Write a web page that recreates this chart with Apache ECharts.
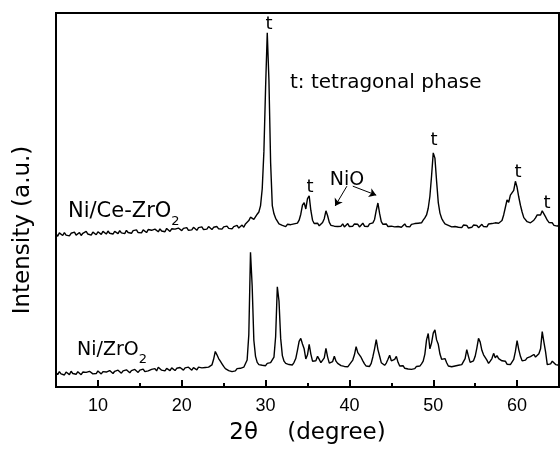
<!DOCTYPE html>
<html>
<head>
<meta charset="utf-8">
<title>XRD</title>
<script src="https://cdn.jsdelivr.net/npm/echarts@6/dist/echarts.min.js"></script>
<style>
  html, body { margin: 0; padding: 0; background: #fff; }
  #chart { width: 560px; height: 450px; }
</style>
</head>
<body>
<div id="chart"></div>
<script>
  // 2-theta grid (degree)
  const angles = [
    5,5.2,5.4,5.6,5.8,6,6.2,6.4,6.6,6.8,
    7,7.2,7.4,7.6,7.8,8,8.2,8.4,8.6,8.8,
    9,9.2,9.4,9.6,9.8,10,10.2,10.4,10.6,10.8,
    11,11.2,11.4,11.6,11.8,12,12.2,12.4,12.6,12.8,
    13,13.2,13.4,13.6,13.8,14,14.2,14.4,14.6,14.8,
    15,15.2,15.4,15.6,15.8,16,16.2,16.4,16.6,16.8,
    17,17.2,17.4,17.6,17.8,18,18.2,18.4,18.6,18.8,
    19,19.2,19.4,19.6,19.8,20,20.2,20.4,20.6,20.8,
    21,21.2,21.4,21.6,21.8,22,22.2,22.4,22.6,22.8,
    23,23.2,23.4,23.6,23.8,24,24.2,24.4,24.6,24.8,
    25,25.2,25.4,25.6,25.8,26,26.2,26.4,26.6,26.8,
    27,27.2,27.4,27.6,27.8,28,28.2,28.4,28.6,28.8,
    29,29.2,29.4,29.6,29.8,30,30.2,30.4,30.6,30.8,
    31,31.2,31.4,31.6,31.8,32,32.2,32.4,32.6,32.8,
    33,33.2,33.4,33.6,33.8,34,34.2,34.4,34.6,34.8,
    35,35.2,35.4,35.6,35.8,36,36.2,36.4,36.6,36.8,
    37,37.2,37.4,37.6,37.8,38,38.2,38.4,38.6,38.8,
    39,39.2,39.4,39.6,39.8,40,40.2,40.4,40.6,40.8,
    41,41.2,41.4,41.6,41.8,42,42.2,42.4,42.6,42.8,
    43,43.2,43.4,43.6,43.8,44,44.2,44.4,44.6,44.8,
    45,45.2,45.4,45.6,45.8,46,46.2,46.4,46.6,46.8,
    47,47.2,47.4,47.6,47.8,48,48.2,48.4,48.6,48.8,
    49,49.2,49.4,49.6,49.8,50,50.2,50.4,50.6,50.8,
    51,51.2,51.4,51.6,51.8,52,52.2,52.4,52.6,52.8,
    53,53.2,53.4,53.6,53.8,54,54.2,54.4,54.6,54.8,
    55,55.2,55.4,55.6,55.8,56,56.2,56.4,56.6,56.8,
    57,57.2,57.4,57.6,57.8,58,58.2,58.4,58.6,58.8,
    59,59.2,59.4,59.6,59.8,60,60.2,60.4,60.6,60.8,
    61,61.2,61.4,61.6,61.8,62,62.2,62.4,62.6,62.8,
    63,63.2,63.4,63.6,63.8,64,64.2,64.4,64.6,64.8,
    65
  ];

  // Ni/Ce-ZrO2 (upper trace), a.u.
  const niCeZr = [
    41.0,40.3,41.2,40.7,40.5,41.3,40.6,41.0,40.4,41.1,
    40.8,41.4,40.6,40.9,41.3,40.5,41.1,40.8,41.6,40.9,
    41.2,40.6,41.4,41.0,40.7,41.5,41.1,40.8,41.6,41.2,
    40.9,41.7,41.1,41.4,40.9,41.6,41.3,41.0,41.8,41.2,
    41.5,41.0,41.9,41.3,41.6,41.1,41.8,41.4,42.0,41.3,
    41.7,41.2,42.0,41.5,41.3,42.1,41.6,41.9,41.4,42.2,
    41.8,41.5,42.3,41.7,42.0,41.5,42.4,41.9,41.6,42.3,
    41.9,42.2,41.7,42.5,42.0,41.8,42.4,42.1,42.6,41.9,
    42.3,42.0,42.7,42.2,41.9,42.6,42.3,42.8,42.1,42.5,
    42.2,42.9,42.4,42.1,42.7,42.4,42.9,42.3,42.6,42.2,
    42.8,42.5,43.0,42.4,42.7,42.3,42.9,42.6,43.2,42.5,
    42.9,43.3,42.7,43.6,43.8,44.5,45.4,45.8,44.8,45.3,
    46.2,46.8,48.5,53.0,63.0,80.0,94.7,82.0,60.0,48.5,
    46.3,45.1,44.6,43.6,44.1,43.2,43.7,42.9,43.5,43.0,
    43.4,42.9,43.6,43.1,43.8,44.6,46.2,48.6,49.3,47.6,
    50.4,51.1,47.2,44.6,43.7,43.2,43.8,43.1,43.5,44.0,
    45.0,47.1,45.8,44.0,43.2,43.7,43.0,43.5,42.9,43.4,
    43.0,43.6,42.8,43.3,43.7,42.9,43.4,43.0,43.6,43.1,
    43.5,42.8,43.3,43.8,43.0,43.4,42.9,43.6,43.2,43.9,
    44.8,47.2,49.2,46.4,44.2,43.5,43.0,43.6,42.9,43.3,
    43.0,43.5,42.8,43.2,42.9,43.4,42.7,43.1,43.6,42.9,
    43.3,42.8,43.5,43.0,43.7,43.2,43.8,44.3,43.9,44.6,
    45.2,46.0,47.8,51.0,56.5,62.6,61.2,55.0,49.3,46.5,
    45.1,44.3,43.6,43.9,43.2,43.5,42.8,43.3,42.9,43.4,
    42.7,43.1,42.6,43.3,42.8,43.2,42.5,43.0,42.7,43.3,
    42.8,43.2,42.6,43.1,43.5,42.9,43.3,42.8,43.6,43.2,
    43.7,43.3,43.9,43.5,43.8,44.0,44.5,46.0,48.0,50.0,
    49.4,51.3,50.8,52.6,55.0,53.4,50.8,48.6,46.8,45.3,
    44.8,44.2,44.5,43.9,44.3,44.6,45.2,46.0,46.5,46.0,
    47.1,46.6,45.5,44.6,44.0,43.6,43.9,43.2,43.6,43.0,
    43.4
  ];

  // Ni/ZrO2 (lower trace), a.u.
  const niZr = [
    3.9,3.3,4.1,3.5,3.8,3.2,4.0,3.6,3.3,4.2,
    3.6,3.9,3.4,4.1,3.7,3.3,4.0,3.5,3.9,3.4,
    4.2,3.7,3.5,4.0,3.6,4.3,3.8,3.5,4.1,3.7,
    4.0,3.6,4.4,3.9,3.6,4.2,3.8,4.5,4.0,3.7,
    4.3,3.9,4.6,4.1,3.8,4.4,4.0,4.7,4.2,3.9,
    4.5,4.2,4.8,4.1,4.6,4.3,4.0,4.7,4.4,4.9,
    4.3,5.3,5.0,4.5,4.8,4.3,5.0,4.6,4.4,5.1,
    4.7,4.4,5.0,4.6,5.2,4.8,4.5,5.1,4.7,5.3,
    4.8,4.5,5.2,4.9,4.6,5.3,4.8,5.1,4.7,5.2,
    4.9,5.3,5.1,5.9,7.4,9.5,8.6,7.6,6.9,6.2,
    5.5,4.9,5.2,4.4,4.7,4.1,4.6,4.3,4.9,4.5,
    5.0,4.7,5.3,5.0,7.2,14.0,36.0,27.0,12.5,8.2,
    6.6,6.0,6.4,5.8,6.2,5.7,6.3,5.9,6.5,6.6,
    8.0,13.5,26.8,23.0,13.0,8.4,6.9,6.3,6.7,6.0,
    6.4,5.9,6.6,7.6,9.8,12.2,13.0,11.5,10.2,7.5,
    8.6,11.4,8.8,6.9,6.5,7.0,8.2,7.4,6.5,6.8,
    7.8,10.3,8.0,6.4,6.1,6.8,8.2,6.9,6.3,6.0,
    5.7,6.2,5.5,5.9,5.4,6.0,6.3,7.2,8.6,10.8,
    9.2,9.6,7.9,7.0,6.2,5.6,6.0,5.5,6.3,8.1,
    10.2,12.7,10.0,8.3,6.5,6.2,5.8,6.4,7.4,8.5,
    7.0,6.6,7.4,8.2,6.6,5.6,5.2,5.7,5.0,5.4,
    4.8,5.3,4.7,5.2,4.9,5.5,5.0,5.6,6.2,6.9,
    8.8,12.6,14.3,10.2,11.8,14.4,15.3,12.6,11.4,8.8,
    7.4,7.9,7.6,6.5,5.6,6.1,5.4,5.9,5.6,5.3,
    5.8,5.4,6.0,6.4,7.6,10.0,8.2,6.6,6.1,7.0,
    8.2,10.4,13.0,12.0,9.8,8.6,9.0,7.2,6.3,6.9,
    7.6,9.0,7.8,8.4,7.6,7.9,7.0,6.6,6.9,6.1,
    6.4,6.0,6.5,7.4,9.5,12.4,10.0,8.2,7.0,6.8,
    7.2,7.8,7.3,8.1,7.6,8.7,8.0,8.5,8.9,10.2,
    14.8,12.0,9.4,6.0,5.5,6.2,6.9,6.4,6.0,5.6,
    5.8
  ];

  const majorTicks = [10, 20, 30, 40, 50, 60];
  const minorTicks = [15, 25, 35, 45, 55];

  const sans = 'DejaVu Sans';
  const chart = echarts.init(document.getElementById('chart'));

  function label(x, y, text, size) {
    return {
      type: 'text', x: x, y: y, silent: true,
      style: {
        text: text, fill: '#000', fontSize: size, fontFamily: sans,
        textAlign: 'center', textVerticalAlign: 'middle',
        align: 'center', verticalAlign: 'middle'
      }
    };
  }

  function sampleName(x, y, main, size) {
    return {
      type: 'text', x: x, y: y, silent: true,
      style: {
        text: '{a|' + main + '}{b|2}',
        fill: '#000',
        textAlign: 'left', textVerticalAlign: 'middle',
        align: 'left', verticalAlign: 'middle',
        rich: {
          a: { fontSize: size, fontFamily: sans, lineHeight: 32, fill: '#000' },
          b: { fontSize: 13, fontFamily: sans, lineHeight: 14, verticalAlign: 'bottom', fill: '#000' }
        }
      }
    };
  }

  const option = {
    animation: false,
    backgroundColor: '#fff',
    grid: {
      left: 56, right: 1, top: 13, bottom: 59,
      show: true, borderColor: '#000', borderWidth: 2
    },
    xAxis: [
      {
        type: 'value', min: 5, max: 65,
        axisLine: { show: true, lineStyle: { color: '#000', width: 2 } },
        axisTick: { show: true, inside: true, length: 7, customValues: majorTicks,
          lineStyle: { color: '#000', width: 2 } },
        axisLabel: { customValues: majorTicks, margin: 10, color: '#000',
          fontSize: 18, fontFamily: 'Liberation Sans' },
        splitLine: { show: false },
        name: '2\u03b8    (degree)',
        nameLocation: 'middle',
        nameGap: 35,
        nameTextStyle: { color: '#000', fontSize: 23, fontFamily: sans }
      },
      {
        type: 'value', min: 5, max: 65, position: 'bottom',
        axisLine: { show: false },
        axisTick: { show: true, inside: true, length: 4, customValues: minorTicks,
          lineStyle: { color: '#000', width: 2 } },
        axisLabel: { show: false },
        splitLine: { show: false }
      }
    ],
    yAxis: { type: 'value', min: 0, max: 100, show: false },
    series: [
      {
        name: 'Ni/Ce-ZrO2',
        type: 'line',
        xAxisIndex: 0,
        data: angles.map((a, i) => [a, niCeZr[i]]),
        showSymbol: false,
        lineStyle: { color: '#000', width: 1.4 },
        markLine: {
          silent: true,
          symbol: ['none', 'arrow'],
          symbolSize: 7,
          label: { show: false },
          lineStyle: { color: '#000', width: 1, type: 'solid' },
          data: [
            [{ coord: [39.7, 53.7] }, { coord: [38.3, 48.4] }],
            [{ coord: [40.4, 53.7] }, { coord: [43.2, 51.3] }]
          ]
        }
      },
      {
        name: 'Ni/ZrO2',
        type: 'line',
        xAxisIndex: 0,
        data: angles.map((a, i) => [a, niZr[i]]),
        showSymbol: false,
        lineStyle: { color: '#000', width: 1.4 }
      }
    ],
    graphic: [
      {
        type: 'text', x: 23, y: 230, rotation: Math.PI / 2, silent: true,
        style: {
          text: 'Intensity (a.u.)', fill: '#000', fontSize: 23, fontFamily: sans,
          textAlign: 'center', textVerticalAlign: 'middle',
          align: 'center', verticalAlign: 'middle'
        }
      },
      {
        type: 'text', x: 290, y: 83, silent: true,
        style: {
          text: 't: tetragonal phase', fill: '#000', fontSize: 20, fontFamily: sans,
          textAlign: 'left', textVerticalAlign: 'middle',
          align: 'left', verticalAlign: 'middle'
        }
      },
      label(269, 24, 't', 18),
      label(310, 187, 't', 18),
      label(434, 140, 't', 18),
      label(518, 172, 't', 18),
      label(547, 203, 't', 18),
      label(347, 180, 'NiO', 19),
      sampleName(68, 212, 'Ni/Ce-ZrO', 21),
      sampleName(77, 350, 'Ni/ZrO', 19)
    ]
  };

  chart.setOption(option);
</script>
</body>
</html>
